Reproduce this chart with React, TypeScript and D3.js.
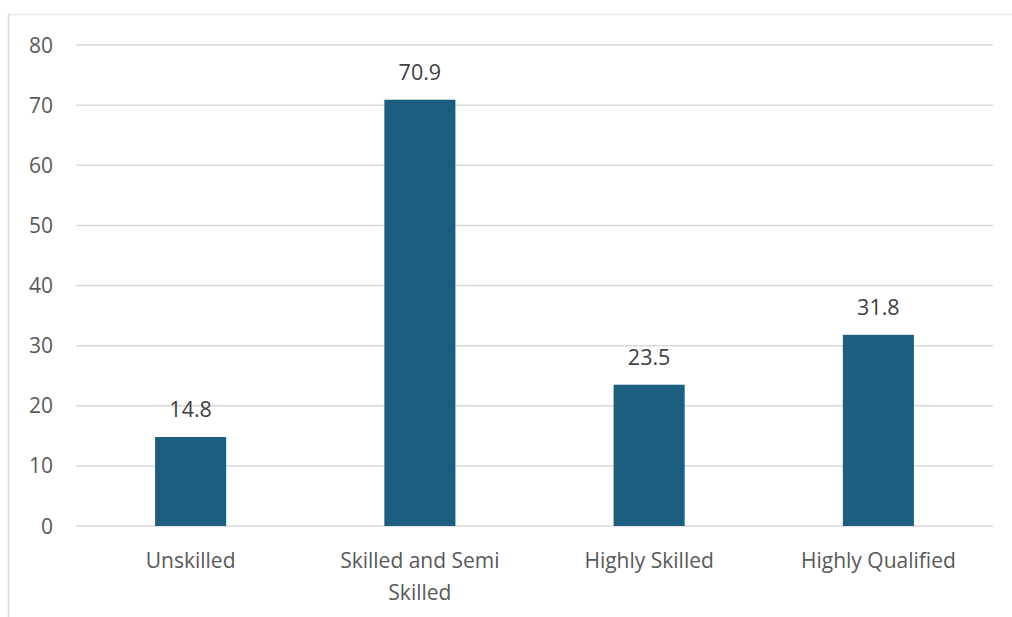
import React from "react";
import * as d3 from "d3";

const categories = ["Unskilled", "Skilled and Semi Skilled", "Highly Skilled", "Highly Qualified"];
const categoryLines = [["Unskilled"], ["Skilled and Semi", "Skilled"], ["Highly Skilled"], ["Highly Qualified"]];
const values = [14.8, 70.9, 23.5, 31.8];
const yTicks = [0, 10, 20, 30, 40, 50, 60, 70, 80];

const W = 1012;
const H = 617;
const FONT = "'Open Sans', Lato, sans-serif";
const TEXT = "#595959";
const BAR = "#1b5e7f";

export default function App() {
  const x = d3
    .scaleBand<string>()
    .domain(categories)
    .range([76, 993])
    .paddingInner(0.69)
    .paddingOuter(0.345);
  const y = d3.scaleLinear().domain([0, 80]).range([526, 45]);
  const cx = (c: string) => (x(c) ?? 0) + x.bandwidth() / 2;

  return (
    <svg
      width={W}
      height={H}
      style={{ position: "absolute", left: 0, top: 0, background: "#fff" }}
      fontFamily={FONT}
    >
      {/* chart frame */}
      <line x1={8.5} x2={W} y1={14.5} y2={14.5} stroke="#e8e8e8" strokeWidth={1.5} />
      <line x1={8.5} x2={8.5} y1={14.5} y2={H} stroke="#d9d9d9" strokeWidth={1.5} />

      {/* gridlines and y tick labels */}
      {yTicks.map((t) => (
        <g key={t}>
          <line x1={76} x2={993} y1={y(t)} y2={y(t)} stroke="#d9d9d9" strokeWidth={1.5} />
          <text x={53} y={y(t) + 7.5} textAnchor="end" fontSize={21} fill={TEXT}>
            {t}
          </text>
        </g>
      ))}

      {/* bars */}
      {categories.map((c, i) => (
        <rect
          key={c}
          x={x(c)}
          y={y(values[i])}
          width={x.bandwidth()}
          height={y(0) - y(values[i])}
          fill={BAR}
        />
      ))}

      {/* value labels */}
      {categories.map((c, i) => (
        <text
          key={c}
          x={cx(c)}
          y={y(values[i]) - 20}
          textAnchor="middle"
          fontSize={21.5}
          fill="#404040"
        >
          {values[i].toFixed(1)}
        </text>
      ))}

      {/* category labels */}
      {categories.map((c, i) => (
        <text key={c} x={cx(c)} y={568} textAnchor="middle" fontSize={21} fill={TEXT}>
          {categoryLines[i].map((ln, j) => (
            <tspan key={j} x={cx(c)} dy={j === 0 ? 0 : 32}>
              {ln}
            </tspan>
          ))}
        </text>
      ))}
    </svg>
  );
}
